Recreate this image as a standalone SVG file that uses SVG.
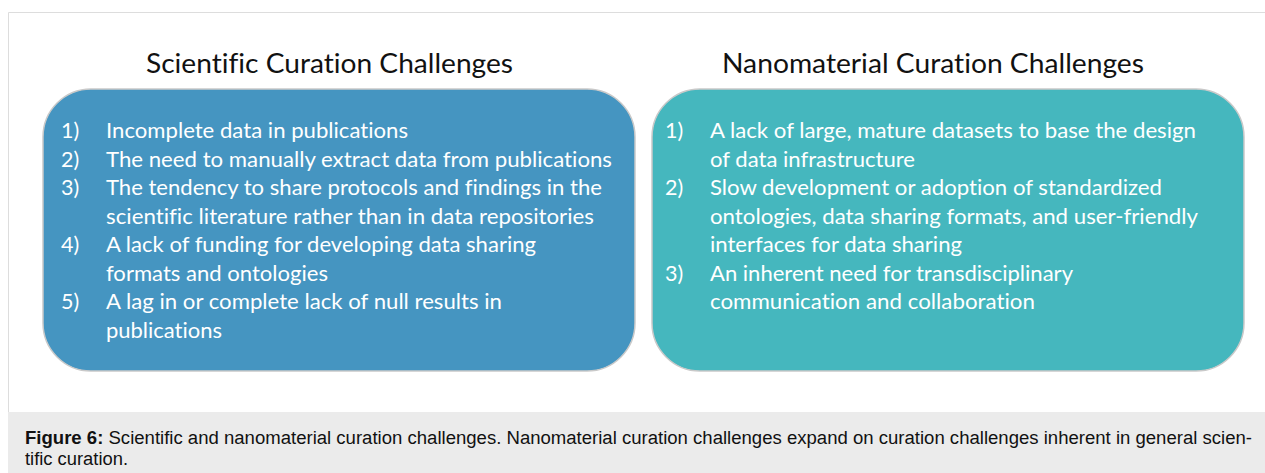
<svg xmlns="http://www.w3.org/2000/svg" width="1265" height="473" viewBox="0 0 1265 473">
<style>
.title{font-family:Lato,"Open Sans","Liberation Sans",sans-serif;font-size:26px;fill:#111;font-variant-ligatures:none}
.body{font-family:Lato,"Open Sans","Liberation Sans",sans-serif;font-size:21.5px;fill:#ffffff;font-variant-ligatures:none}
.box{stroke:#c9c9c9;stroke-width:1.5}
.cap{font-family:"Liberation Sans",Arial,sans-serif;font-size:18px;fill:#111}
</style>
<rect x="0" y="0" width="1265" height="473" fill="#ffffff"/>
<path d="M8.5 412 V12.5 H1265" fill="none" stroke="#dddddd" stroke-width="1"/>
<rect x="8" y="412" width="1257" height="61" fill="#ebebeb"/>

<g id="scientific">
  <text class="title" x="146" y="73" textLength="367" lengthAdjust="spacingAndGlyphs">Scientific Curation Challenges</text>
  <rect class="box" x="43" y="89" width="592" height="282" rx="48" ry="48" fill="#4595c1"/>
  <g class="body">
    <text x="61" y="138">1)</text>
    <text x="106" y="138" textLength="302" lengthAdjust="spacingAndGlyphs">Incomplete data in publications</text>
    <text x="61" y="166.5">2)</text>
    <text x="106" y="166.5" textLength="506" lengthAdjust="spacingAndGlyphs">The need to manually extract data from publications</text>
    <text x="61" y="195">3)</text>
    <text x="106" y="195" textLength="496" lengthAdjust="spacingAndGlyphs">The tendency to share protocols and findings in the</text>
    <text x="106" y="223.5" textLength="488" lengthAdjust="spacingAndGlyphs">scientific literature rather than in data repositories</text>
    <text x="61" y="252">4)</text>
    <text x="106" y="252" textLength="430" lengthAdjust="spacingAndGlyphs">A lack of funding for developing data sharing</text>
    <text x="106" y="280.5" textLength="222" lengthAdjust="spacingAndGlyphs">formats and ontologies</text>
    <text x="61" y="309">5)</text>
    <text x="106" y="309" textLength="396" lengthAdjust="spacingAndGlyphs">A lag in or complete lack of null results in</text>
    <text x="106" y="337.5" textLength="116" lengthAdjust="spacingAndGlyphs">publications</text>
  </g>
</g>

<g id="nanomaterial">
  <text class="title" x="722" y="73" textLength="422" lengthAdjust="spacingAndGlyphs">Nanomaterial Curation Challenges</text>
  <rect class="box" x="652" y="89" width="592" height="282" rx="48" ry="48" fill="#45b7be"/>
  <g class="body">
    <text x="665" y="138">1)</text>
    <text x="710" y="138" textLength="486" lengthAdjust="spacingAndGlyphs">A lack of large, mature datasets to base the design</text>
    <text x="710" y="166.5" textLength="205" lengthAdjust="spacingAndGlyphs">of data infrastructure</text>
    <text x="665" y="195">2)</text>
    <text x="710" y="195" textLength="452" lengthAdjust="spacingAndGlyphs">Slow development or adoption of standardized</text>
    <text x="710" y="223.5" textLength="488" lengthAdjust="spacingAndGlyphs">ontologies, data sharing formats, and user-friendly</text>
    <text x="710" y="252" textLength="252" lengthAdjust="spacingAndGlyphs">interfaces for data sharing</text>
    <text x="665" y="280.5">3)</text>
    <text x="710" y="280.5" textLength="363" lengthAdjust="spacingAndGlyphs">An inherent need for transdisciplinary</text>
    <text x="710" y="309" textLength="325" lengthAdjust="spacingAndGlyphs">communication and collaboration</text>
  </g>
</g>

<g id="connectors"></g>

<g id="caption">
  <text class="cap" x="25" y="444" textLength="1227" lengthAdjust="spacingAndGlyphs"><tspan font-weight="bold">Figure 6:</tspan> Scientific and nanomaterial curation challenges. Nanomaterial curation challenges expand on curation challenges inherent in general scien-</text>
  <text class="cap" x="25" y="465" textLength="103" lengthAdjust="spacingAndGlyphs">tific curation.</text>
</g>
</svg>
